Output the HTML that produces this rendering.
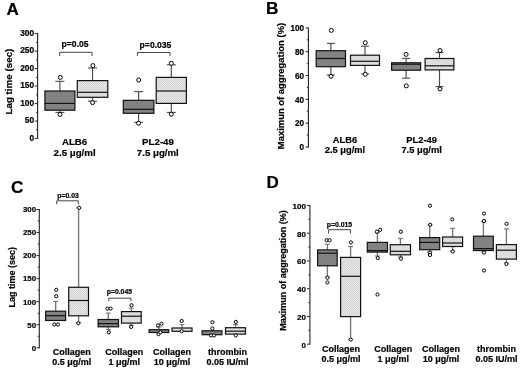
<!DOCTYPE html>
<html><head><meta charset="utf-8"><style>
html,body{margin:0;padding:0;background:#fff;}
svg{display:block;filter:grayscale(1) blur(0.3px);}
text{font-family:"Liberation Sans",sans-serif;font-weight:bold;fill:#000;stroke:#000;stroke-width:0.2px;}
</style></head><body>
<svg width="520" height="371" viewBox="0 0 520 371">
<defs>
<pattern id="dots" width="2" height="2" patternUnits="userSpaceOnUse">
<rect width="2" height="2" fill="#e6e6e6"/><rect width="1" height="1" fill="#d4d4d4"/><rect x="1" y="1" width="1" height="1" fill="#d4d4d4"/>
</pattern>
</defs>
<rect width="520" height="371" fill="#fff"/>
<text x="6.60" y="14.70" font-size="17" text-anchor="start" >A</text>
<line x1="37.60" y1="33.10" x2="37.60" y2="139.10" stroke="#222" stroke-width="1.1"/>
<line x1="34.80" y1="138.60" x2="37.60" y2="138.60" stroke="#222" stroke-width="1.0"/>
<text x="34.20" y="140.61" font-size="8.4" text-anchor="end" >0</text>
<line x1="34.80" y1="121.10" x2="37.60" y2="121.10" stroke="#222" stroke-width="1.0"/>
<text x="34.20" y="123.11" font-size="8.4" text-anchor="end" >50</text>
<line x1="34.80" y1="103.60" x2="37.60" y2="103.60" stroke="#222" stroke-width="1.0"/>
<text x="34.20" y="105.61" font-size="8.4" text-anchor="end" >100</text>
<line x1="34.80" y1="86.10" x2="37.60" y2="86.10" stroke="#222" stroke-width="1.0"/>
<text x="34.20" y="88.11" font-size="8.4" text-anchor="end" >150</text>
<line x1="34.80" y1="68.60" x2="37.60" y2="68.60" stroke="#222" stroke-width="1.0"/>
<text x="34.20" y="70.61" font-size="8.4" text-anchor="end" >200</text>
<line x1="34.80" y1="51.10" x2="37.60" y2="51.10" stroke="#222" stroke-width="1.0"/>
<text x="34.20" y="53.11" font-size="8.4" text-anchor="end" >250</text>
<line x1="34.80" y1="33.60" x2="37.60" y2="33.60" stroke="#222" stroke-width="1.0"/>
<text x="34.20" y="35.61" font-size="8.4" text-anchor="end" >300</text>
<line x1="36.00" y1="129.85" x2="37.60" y2="129.85" stroke="#222" stroke-width="0.9"/>
<line x1="36.00" y1="112.35" x2="37.60" y2="112.35" stroke="#222" stroke-width="0.9"/>
<line x1="36.00" y1="94.85" x2="37.60" y2="94.85" stroke="#222" stroke-width="0.9"/>
<line x1="36.00" y1="77.35" x2="37.60" y2="77.35" stroke="#222" stroke-width="0.9"/>
<line x1="36.00" y1="59.85" x2="37.60" y2="59.85" stroke="#222" stroke-width="0.9"/>
<line x1="36.00" y1="42.35" x2="37.60" y2="42.35" stroke="#222" stroke-width="0.9"/>
<text x="0" y="0" font-size="9.8" text-anchor="middle" transform="translate(12.3,81.6) rotate(-90)">Lag time (sec)</text>
<line x1="59.90" y1="81.30" x2="59.90" y2="90.90" stroke="#4a4a4a" stroke-width="1.15"/>
<line x1="55.40" y1="81.30" x2="64.40" y2="81.30" stroke="#4a4a4a" stroke-width="1.1"/>
<line x1="59.90" y1="110.30" x2="59.90" y2="112.40" stroke="#4a4a4a" stroke-width="1.15"/>
<line x1="55.40" y1="112.40" x2="64.40" y2="112.40" stroke="#4a4a4a" stroke-width="1.1"/>
<rect x="44.90" y="91.00" width="30.00" height="19.20" fill="#828282" stroke="#111" stroke-width="1.2"/>
<line x1="44.90" y1="103.40" x2="74.90" y2="103.40" stroke="#111" stroke-width="1.2"/>
<circle cx="60.30" cy="77.40" r="2.0" fill="#fff" stroke="#000" stroke-width="1.0"/>
<circle cx="60.00" cy="114.50" r="2.0" fill="#fff" stroke="#000" stroke-width="1.0"/>
<line x1="92.55" y1="68.00" x2="92.55" y2="80.50" stroke="#4a4a4a" stroke-width="1.15"/>
<line x1="88.05" y1="68.00" x2="97.05" y2="68.00" stroke="#4a4a4a" stroke-width="1.1"/>
<line x1="92.55" y1="97.40" x2="92.55" y2="101.20" stroke="#4a4a4a" stroke-width="1.15"/>
<line x1="88.05" y1="101.20" x2="97.05" y2="101.20" stroke="#4a4a4a" stroke-width="1.1"/>
<rect x="77.30" y="80.60" width="30.50" height="16.70" fill="url(#dots)" stroke="#111" stroke-width="1.2"/>
<line x1="77.30" y1="92.30" x2="107.80" y2="92.30" stroke="#111" stroke-width="1.2"/>
<circle cx="92.90" cy="65.60" r="2.0" fill="#fff" stroke="#000" stroke-width="1.0"/>
<circle cx="92.60" cy="102.60" r="2.0" fill="#fff" stroke="#000" stroke-width="1.0"/>
<line x1="138.60" y1="91.60" x2="138.60" y2="100.20" stroke="#4a4a4a" stroke-width="1.15"/>
<line x1="134.10" y1="91.60" x2="143.10" y2="91.60" stroke="#4a4a4a" stroke-width="1.1"/>
<line x1="138.60" y1="113.40" x2="138.60" y2="122.30" stroke="#4a4a4a" stroke-width="1.15"/>
<line x1="134.10" y1="122.30" x2="143.10" y2="122.30" stroke="#4a4a4a" stroke-width="1.1"/>
<rect x="123.30" y="100.30" width="30.60" height="13.00" fill="#828282" stroke="#111" stroke-width="1.2"/>
<line x1="123.30" y1="109.30" x2="153.90" y2="109.30" stroke="#111" stroke-width="1.2"/>
<circle cx="138.70" cy="80.00" r="2.0" fill="#fff" stroke="#000" stroke-width="1.0"/>
<circle cx="138.60" cy="123.20" r="2.0" fill="#fff" stroke="#000" stroke-width="1.0"/>
<line x1="171.30" y1="64.80" x2="171.30" y2="77.30" stroke="#4a4a4a" stroke-width="1.15"/>
<line x1="166.80" y1="64.80" x2="175.80" y2="64.80" stroke="#4a4a4a" stroke-width="1.1"/>
<line x1="171.30" y1="103.50" x2="171.30" y2="112.40" stroke="#4a4a4a" stroke-width="1.15"/>
<line x1="166.80" y1="112.40" x2="175.80" y2="112.40" stroke="#4a4a4a" stroke-width="1.1"/>
<rect x="156.20" y="77.40" width="30.20" height="26.00" fill="url(#dots)" stroke="#111" stroke-width="1.2"/>
<line x1="156.20" y1="91.00" x2="186.40" y2="91.00" stroke="#111" stroke-width="1.2"/>
<circle cx="171.30" cy="63.30" r="2.0" fill="#fff" stroke="#000" stroke-width="1.0"/>
<circle cx="171.30" cy="114.20" r="2.0" fill="#fff" stroke="#000" stroke-width="1.0"/>
<polyline points="59.7,55.9 59.7,52.3 92.0,52.3 92.0,55.9" fill="none" stroke="#444" stroke-width="1"/>
<text x="75.10" y="47.40" font-size="8.6" text-anchor="middle" >p=0.05</text>
<polyline points="137.4,55.9 137.4,52.5 170.1,52.5 170.1,55.9" fill="none" stroke="#444" stroke-width="1"/>
<text x="155.50" y="47.60" font-size="8.6" text-anchor="middle" >p=0.035</text>
<text x="74.60" y="144.70" font-size="9.7" text-anchor="middle" >ALB6</text>
<text x="74.60" y="155.60" font-size="9.7" text-anchor="middle" >2.5 μg/ml</text>
<text x="158.00" y="144.70" font-size="9.7" text-anchor="middle" >PL2-49</text>
<text x="157.80" y="155.60" font-size="9.7" text-anchor="middle" >7.5 μg/ml</text>
<text x="266.00" y="13.50" font-size="17.3" text-anchor="start" >B</text>
<line x1="308.40" y1="27.40" x2="308.40" y2="147.50" stroke="#222" stroke-width="1.1"/>
<line x1="305.60" y1="147.00" x2="308.40" y2="147.00" stroke="#222" stroke-width="1.0"/>
<text x="304.10" y="150.24" font-size="8.2" text-anchor="end" >0</text>
<line x1="305.60" y1="123.18" x2="308.40" y2="123.18" stroke="#222" stroke-width="1.0"/>
<text x="304.10" y="126.42" font-size="8.2" text-anchor="end" >20</text>
<line x1="305.60" y1="99.36" x2="308.40" y2="99.36" stroke="#222" stroke-width="1.0"/>
<text x="304.10" y="102.60" font-size="8.2" text-anchor="end" >40</text>
<line x1="305.60" y1="75.54" x2="308.40" y2="75.54" stroke="#222" stroke-width="1.0"/>
<text x="304.10" y="78.78" font-size="8.2" text-anchor="end" >60</text>
<line x1="305.60" y1="51.72" x2="308.40" y2="51.72" stroke="#222" stroke-width="1.0"/>
<text x="304.10" y="54.96" font-size="8.2" text-anchor="end" >80</text>
<line x1="305.60" y1="27.90" x2="308.40" y2="27.90" stroke="#222" stroke-width="1.0"/>
<text x="304.10" y="31.14" font-size="8.2" text-anchor="end" >100</text>
<line x1="306.80" y1="135.09" x2="308.40" y2="135.09" stroke="#222" stroke-width="0.9"/>
<line x1="306.80" y1="111.27" x2="308.40" y2="111.27" stroke="#222" stroke-width="0.9"/>
<line x1="306.80" y1="87.45" x2="308.40" y2="87.45" stroke="#222" stroke-width="0.9"/>
<line x1="306.80" y1="63.63" x2="308.40" y2="63.63" stroke="#222" stroke-width="0.9"/>
<line x1="306.80" y1="39.81" x2="308.40" y2="39.81" stroke="#222" stroke-width="0.9"/>
<text x="0" y="0" font-size="9.45" text-anchor="middle" transform="translate(284.4,86.0) rotate(-90)">Maximun of aggregation (%)</text>
<line x1="330.85" y1="43.40" x2="330.85" y2="50.60" stroke="#4a4a4a" stroke-width="1.15"/>
<line x1="326.85" y1="43.40" x2="334.85" y2="43.40" stroke="#4a4a4a" stroke-width="1.1"/>
<line x1="330.85" y1="66.80" x2="330.85" y2="75.00" stroke="#4a4a4a" stroke-width="1.15"/>
<line x1="326.85" y1="75.00" x2="334.85" y2="75.00" stroke="#4a4a4a" stroke-width="1.1"/>
<rect x="316.20" y="50.70" width="29.30" height="16.00" fill="#828282" stroke="#111" stroke-width="1.2"/>
<line x1="316.20" y1="58.50" x2="345.50" y2="58.50" stroke="#111" stroke-width="1.2"/>
<circle cx="331.30" cy="30.40" r="2.0" fill="#fff" stroke="#000" stroke-width="1.0"/>
<circle cx="331.00" cy="76.30" r="2.0" fill="#fff" stroke="#000" stroke-width="1.0"/>
<line x1="365.00" y1="46.20" x2="365.00" y2="55.10" stroke="#4a4a4a" stroke-width="1.15"/>
<line x1="361.00" y1="46.20" x2="369.00" y2="46.20" stroke="#4a4a4a" stroke-width="1.1"/>
<line x1="365.00" y1="65.50" x2="365.00" y2="74.00" stroke="#4a4a4a" stroke-width="1.15"/>
<line x1="361.00" y1="74.00" x2="369.00" y2="74.00" stroke="#4a4a4a" stroke-width="1.1"/>
<rect x="350.50" y="55.20" width="29.00" height="10.20" fill="url(#dots)" stroke="#111" stroke-width="1.2"/>
<line x1="350.50" y1="61.30" x2="379.50" y2="61.30" stroke="#111" stroke-width="1.2"/>
<circle cx="365.30" cy="42.70" r="2.0" fill="#fff" stroke="#000" stroke-width="1.0"/>
<circle cx="365.30" cy="74.30" r="2.0" fill="#fff" stroke="#000" stroke-width="1.0"/>
<line x1="406.10" y1="58.40" x2="406.10" y2="62.70" stroke="#4a4a4a" stroke-width="1.15"/>
<line x1="402.10" y1="58.40" x2="410.10" y2="58.40" stroke="#4a4a4a" stroke-width="1.1"/>
<line x1="406.10" y1="70.30" x2="406.10" y2="78.20" stroke="#4a4a4a" stroke-width="1.15"/>
<line x1="402.10" y1="78.20" x2="410.10" y2="78.20" stroke="#4a4a4a" stroke-width="1.1"/>
<rect x="391.60" y="62.80" width="29.00" height="7.40" fill="#828282" stroke="#111" stroke-width="1.2"/>
<line x1="391.60" y1="64.20" x2="420.60" y2="64.20" stroke="#111" stroke-width="1.2"/>
<circle cx="406.10" cy="54.40" r="2.0" fill="#fff" stroke="#000" stroke-width="1.0"/>
<circle cx="406.30" cy="85.90" r="2.0" fill="#fff" stroke="#000" stroke-width="1.0"/>
<line x1="439.50" y1="52.60" x2="439.50" y2="58.40" stroke="#4a4a4a" stroke-width="1.15"/>
<line x1="435.50" y1="52.60" x2="443.50" y2="52.60" stroke="#4a4a4a" stroke-width="1.1"/>
<line x1="439.50" y1="70.00" x2="439.50" y2="86.60" stroke="#4a4a4a" stroke-width="1.15"/>
<line x1="435.50" y1="86.60" x2="443.50" y2="86.60" stroke="#4a4a4a" stroke-width="1.1"/>
<rect x="425.10" y="58.50" width="28.80" height="11.40" fill="url(#dots)" stroke="#111" stroke-width="1.2"/>
<line x1="425.10" y1="65.80" x2="453.90" y2="65.80" stroke="#111" stroke-width="1.2"/>
<circle cx="440.00" cy="50.50" r="2.0" fill="#fff" stroke="#000" stroke-width="1.0"/>
<circle cx="440.00" cy="89.00" r="2.0" fill="#fff" stroke="#000" stroke-width="1.0"/>
<text x="345.00" y="142.50" font-size="9.3" text-anchor="middle" >ALB6</text>
<text x="345.00" y="153.10" font-size="9.3" text-anchor="middle" >2.5 μg/ml</text>
<text x="421.60" y="142.50" font-size="9.3" text-anchor="middle" >PL2-49</text>
<text x="421.60" y="153.10" font-size="9.3" text-anchor="middle" >7.5 μg/ml</text>
<text x="11.00" y="193.30" font-size="17.3" text-anchor="start" >C</text>
<line x1="39.30" y1="209.00" x2="39.30" y2="348.30" stroke="#222" stroke-width="1.1"/>
<line x1="36.50" y1="347.80" x2="39.30" y2="347.80" stroke="#222" stroke-width="1.0"/>
<text x="36.10" y="350.63" font-size="7.9" text-anchor="end" >0</text>
<line x1="36.50" y1="324.75" x2="39.30" y2="324.75" stroke="#222" stroke-width="1.0"/>
<text x="36.10" y="327.58" font-size="7.9" text-anchor="end" >50</text>
<line x1="36.50" y1="301.70" x2="39.30" y2="301.70" stroke="#222" stroke-width="1.0"/>
<text x="36.10" y="304.53" font-size="7.9" text-anchor="end" >100</text>
<line x1="36.50" y1="278.65" x2="39.30" y2="278.65" stroke="#222" stroke-width="1.0"/>
<text x="36.10" y="281.48" font-size="7.9" text-anchor="end" >150</text>
<line x1="36.50" y1="255.60" x2="39.30" y2="255.60" stroke="#222" stroke-width="1.0"/>
<text x="36.10" y="258.43" font-size="7.9" text-anchor="end" >200</text>
<line x1="36.50" y1="232.55" x2="39.30" y2="232.55" stroke="#222" stroke-width="1.0"/>
<text x="36.10" y="235.38" font-size="7.9" text-anchor="end" >250</text>
<line x1="36.50" y1="209.50" x2="39.30" y2="209.50" stroke="#222" stroke-width="1.0"/>
<text x="36.10" y="212.33" font-size="7.9" text-anchor="end" >300</text>
<line x1="37.70" y1="336.28" x2="39.30" y2="336.28" stroke="#222" stroke-width="0.9"/>
<line x1="37.70" y1="313.23" x2="39.30" y2="313.23" stroke="#222" stroke-width="0.9"/>
<line x1="37.70" y1="290.18" x2="39.30" y2="290.18" stroke="#222" stroke-width="0.9"/>
<line x1="37.70" y1="267.12" x2="39.30" y2="267.12" stroke="#222" stroke-width="0.9"/>
<line x1="37.70" y1="244.07" x2="39.30" y2="244.07" stroke="#222" stroke-width="0.9"/>
<line x1="37.70" y1="221.03" x2="39.30" y2="221.03" stroke="#222" stroke-width="0.9"/>
<text x="0" y="0" font-size="9.0" text-anchor="middle" transform="translate(15.2,277.2) rotate(-90)">Lag time (sec)</text>
<line x1="55.65" y1="301.40" x2="55.65" y2="311.10" stroke="#757575" stroke-width="1.35"/>
<line x1="53.15" y1="301.40" x2="58.15" y2="301.40" stroke="#757575" stroke-width="1.1"/>
<rect x="45.70" y="311.20" width="19.90" height="9.30" fill="#828282" stroke="#111" stroke-width="1.2"/>
<line x1="45.70" y1="315.70" x2="65.60" y2="315.70" stroke="#111" stroke-width="1.2"/>
<circle cx="56.20" cy="289.80" r="1.6" fill="#fff" stroke="#000" stroke-width="1.0"/>
<circle cx="56.20" cy="296.20" r="1.6" fill="#fff" stroke="#000" stroke-width="1.0"/>
<circle cx="54.30" cy="324.50" r="1.6" fill="#fff" stroke="#000" stroke-width="1.0"/>
<circle cx="58.00" cy="324.50" r="1.6" fill="#fff" stroke="#000" stroke-width="1.0"/>
<line x1="78.60" y1="207.80" x2="78.60" y2="287.20" stroke="#757575" stroke-width="1.35"/>
<line x1="76.10" y1="207.80" x2="81.10" y2="207.80" stroke="#757575" stroke-width="1.1"/>
<line x1="78.60" y1="315.90" x2="78.60" y2="322.60" stroke="#757575" stroke-width="1.35"/>
<line x1="76.10" y1="322.60" x2="81.10" y2="322.60" stroke="#757575" stroke-width="1.1"/>
<rect x="68.70" y="287.30" width="19.80" height="28.50" fill="url(#dots)" stroke="#111" stroke-width="1.2"/>
<line x1="68.70" y1="300.50" x2="88.50" y2="300.50" stroke="#111" stroke-width="1.2"/>
<circle cx="79.20" cy="207.80" r="1.6" fill="#fff" stroke="#000" stroke-width="1.0"/>
<circle cx="78.30" cy="323.20" r="1.6" fill="#fff" stroke="#000" stroke-width="1.0"/>
<line x1="108.30" y1="313.10" x2="108.30" y2="319.40" stroke="#757575" stroke-width="1.35"/>
<line x1="105.80" y1="313.10" x2="110.80" y2="313.10" stroke="#757575" stroke-width="1.1"/>
<line x1="108.30" y1="326.90" x2="108.30" y2="329.50" stroke="#757575" stroke-width="1.35"/>
<line x1="105.80" y1="329.50" x2="110.80" y2="329.50" stroke="#757575" stroke-width="1.1"/>
<rect x="98.10" y="319.50" width="20.40" height="7.30" fill="#828282" stroke="#111" stroke-width="1.2"/>
<line x1="98.10" y1="323.60" x2="118.50" y2="323.60" stroke="#111" stroke-width="1.2"/>
<circle cx="107.40" cy="308.60" r="1.6" fill="#fff" stroke="#000" stroke-width="1.0"/>
<circle cx="110.60" cy="308.60" r="1.6" fill="#fff" stroke="#000" stroke-width="1.0"/>
<circle cx="108.80" cy="332.30" r="1.6" fill="#fff" stroke="#000" stroke-width="1.0"/>
<line x1="131.35" y1="308.10" x2="131.35" y2="311.50" stroke="#757575" stroke-width="1.35"/>
<line x1="128.85" y1="308.10" x2="133.85" y2="308.10" stroke="#757575" stroke-width="1.1"/>
<line x1="131.35" y1="323.20" x2="131.35" y2="325.30" stroke="#757575" stroke-width="1.35"/>
<line x1="128.85" y1="325.30" x2="133.85" y2="325.30" stroke="#757575" stroke-width="1.1"/>
<rect x="121.50" y="311.60" width="19.70" height="11.50" fill="url(#dots)" stroke="#111" stroke-width="1.2"/>
<line x1="121.50" y1="316.20" x2="141.20" y2="316.20" stroke="#111" stroke-width="1.2"/>
<circle cx="131.50" cy="305.20" r="1.6" fill="#fff" stroke="#000" stroke-width="1.0"/>
<circle cx="131.20" cy="326.90" r="1.6" fill="#fff" stroke="#000" stroke-width="1.0"/>
<line x1="158.90" y1="327.00" x2="158.90" y2="329.60" stroke="#757575" stroke-width="1.35"/>
<line x1="156.40" y1="327.00" x2="161.40" y2="327.00" stroke="#757575" stroke-width="1.1"/>
<rect x="149.10" y="329.70" width="19.60" height="2.80" fill="#828282" stroke="#111" stroke-width="1.2"/>
<circle cx="158.00" cy="325.40" r="1.6" fill="#fff" stroke="#000" stroke-width="1.0"/>
<circle cx="161.50" cy="323.70" r="1.6" fill="#fff" stroke="#000" stroke-width="1.0"/>
<circle cx="158.50" cy="334.20" r="1.6" fill="#fff" stroke="#000" stroke-width="1.0"/>
<circle cx="160.40" cy="332.30" r="1.6" fill="#fff" stroke="#000" stroke-width="1.0"/>
<line x1="182.00" y1="324.60" x2="182.00" y2="327.90" stroke="#757575" stroke-width="1.35"/>
<line x1="179.50" y1="324.60" x2="184.50" y2="324.60" stroke="#757575" stroke-width="1.1"/>
<rect x="172.00" y="328.00" width="20.00" height="3.30" fill="url(#dots)" stroke="#111" stroke-width="1.2"/>
<circle cx="181.70" cy="321.00" r="1.6" fill="#fff" stroke="#000" stroke-width="1.0"/>
<circle cx="181.70" cy="331.20" r="1.6" fill="#fff" stroke="#000" stroke-width="1.0"/>
<rect x="202.10" y="330.80" width="19.80" height="3.90" fill="#828282" stroke="#111" stroke-width="1.2"/>
<circle cx="212.40" cy="322.20" r="1.6" fill="#fff" stroke="#000" stroke-width="1.0"/>
<circle cx="212.40" cy="328.50" r="1.6" fill="#fff" stroke="#000" stroke-width="1.0"/>
<circle cx="211.00" cy="335.40" r="1.6" fill="#fff" stroke="#000" stroke-width="1.0"/>
<circle cx="214.00" cy="335.40" r="1.6" fill="#fff" stroke="#000" stroke-width="1.0"/>
<line x1="235.50" y1="324.60" x2="235.50" y2="327.60" stroke="#757575" stroke-width="1.35"/>
<line x1="233.00" y1="324.60" x2="238.00" y2="324.60" stroke="#757575" stroke-width="1.1"/>
<rect x="225.50" y="327.70" width="20.00" height="6.40" fill="url(#dots)" stroke="#111" stroke-width="1.2"/>
<line x1="225.50" y1="331.20" x2="245.50" y2="331.20" stroke="#111" stroke-width="1.2"/>
<circle cx="235.80" cy="321.90" r="1.6" fill="#fff" stroke="#000" stroke-width="1.0"/>
<circle cx="235.80" cy="335.40" r="1.6" fill="#fff" stroke="#000" stroke-width="1.0"/>
<polyline points="56.7,204.2 56.7,200.8 78.3,200.8 78.3,204.2" fill="none" stroke="#444" stroke-width="1"/>
<text x="68.10" y="197.80" font-size="6.5" text-anchor="middle" textLength="21.6" lengthAdjust="spacingAndGlyphs" stroke="#000" stroke-width="0.18">p=0.03</text>
<polyline points="108.8,301.1 108.8,298.2 131.0,298.2 131.0,301.1" fill="none" stroke="#444" stroke-width="1"/>
<text x="119.40" y="294.40" font-size="6.5" text-anchor="middle" textLength="25.3" lengthAdjust="spacingAndGlyphs" stroke="#000" stroke-width="0.18">p=0.045</text>
<text x="71.80" y="354.90" font-size="9.0" text-anchor="middle" >Collagen</text>
<text x="71.80" y="365.10" font-size="9.0" text-anchor="middle" >0.5 μg/ml</text>
<text x="124.30" y="354.90" font-size="9.0" text-anchor="middle" >Collagen</text>
<text x="124.30" y="365.10" font-size="9.0" text-anchor="middle" >1 μg/ml</text>
<text x="172.00" y="354.90" font-size="9.0" text-anchor="middle" >Collagen</text>
<text x="172.00" y="365.10" font-size="9.0" text-anchor="middle" >10 μg/ml</text>
<text x="227.60" y="354.90" font-size="9.0" text-anchor="middle" >thrombin</text>
<text x="227.60" y="365.10" font-size="9.0" text-anchor="middle" >0.05 IU/ml</text>
<text x="266.40" y="188.40" font-size="17" text-anchor="start" >D</text>
<line x1="309.90" y1="205.00" x2="309.90" y2="344.70" stroke="#222" stroke-width="1.1"/>
<line x1="307.10" y1="344.20" x2="309.90" y2="344.20" stroke="#222" stroke-width="1.0"/>
<text x="305.90" y="347.56" font-size="8.0" text-anchor="end" >0</text>
<line x1="307.10" y1="316.46" x2="309.90" y2="316.46" stroke="#222" stroke-width="1.0"/>
<text x="305.90" y="319.82" font-size="8.0" text-anchor="end" >20</text>
<line x1="307.10" y1="288.72" x2="309.90" y2="288.72" stroke="#222" stroke-width="1.0"/>
<text x="305.90" y="292.08" font-size="8.0" text-anchor="end" >40</text>
<line x1="307.10" y1="260.98" x2="309.90" y2="260.98" stroke="#222" stroke-width="1.0"/>
<text x="305.90" y="264.34" font-size="8.0" text-anchor="end" >60</text>
<line x1="307.10" y1="233.24" x2="309.90" y2="233.24" stroke="#222" stroke-width="1.0"/>
<text x="305.90" y="236.60" font-size="8.0" text-anchor="end" >80</text>
<line x1="307.10" y1="205.50" x2="309.90" y2="205.50" stroke="#222" stroke-width="1.0"/>
<text x="305.90" y="208.86" font-size="8.0" text-anchor="end" >100</text>
<line x1="308.30" y1="330.33" x2="309.90" y2="330.33" stroke="#222" stroke-width="0.9"/>
<line x1="308.30" y1="302.59" x2="309.90" y2="302.59" stroke="#222" stroke-width="0.9"/>
<line x1="308.30" y1="274.85" x2="309.90" y2="274.85" stroke="#222" stroke-width="0.9"/>
<line x1="308.30" y1="247.11" x2="309.90" y2="247.11" stroke="#222" stroke-width="0.9"/>
<line x1="308.30" y1="219.37" x2="309.90" y2="219.37" stroke="#222" stroke-width="0.9"/>
<text x="0" y="0" font-size="9.0" text-anchor="middle" transform="translate(286.4,270.6) rotate(-90)">Maximun of aggregation (%)</text>
<line x1="327.40" y1="244.20" x2="327.40" y2="249.80" stroke="#757575" stroke-width="1.35"/>
<line x1="324.90" y1="244.20" x2="329.90" y2="244.20" stroke="#757575" stroke-width="1.1"/>
<line x1="327.40" y1="265.90" x2="327.40" y2="277.00" stroke="#757575" stroke-width="1.35"/>
<line x1="324.90" y1="277.00" x2="329.90" y2="277.00" stroke="#757575" stroke-width="1.1"/>
<rect x="317.60" y="249.90" width="19.60" height="15.90" fill="#828282" stroke="#111" stroke-width="1.2"/>
<line x1="317.60" y1="253.20" x2="337.20" y2="253.20" stroke="#111" stroke-width="1.2"/>
<circle cx="326.60" cy="240.20" r="1.6" fill="#fff" stroke="#000" stroke-width="1.0"/>
<circle cx="329.60" cy="240.20" r="1.6" fill="#fff" stroke="#000" stroke-width="1.0"/>
<circle cx="327.40" cy="277.70" r="1.6" fill="#fff" stroke="#000" stroke-width="1.0"/>
<circle cx="327.40" cy="282.50" r="1.6" fill="#fff" stroke="#000" stroke-width="1.0"/>
<line x1="350.60" y1="246.60" x2="350.60" y2="257.30" stroke="#757575" stroke-width="1.35"/>
<line x1="348.10" y1="246.60" x2="353.10" y2="246.60" stroke="#757575" stroke-width="1.1"/>
<line x1="350.60" y1="316.70" x2="350.60" y2="339.40" stroke="#757575" stroke-width="1.35"/>
<line x1="348.10" y1="339.40" x2="353.10" y2="339.40" stroke="#757575" stroke-width="1.1"/>
<rect x="340.60" y="257.40" width="20.00" height="59.20" fill="url(#dots)" stroke="#111" stroke-width="1.2"/>
<line x1="340.60" y1="276.30" x2="360.60" y2="276.30" stroke="#111" stroke-width="1.2"/>
<circle cx="350.90" cy="242.40" r="1.6" fill="#fff" stroke="#000" stroke-width="1.0"/>
<circle cx="350.70" cy="339.60" r="1.6" fill="#fff" stroke="#000" stroke-width="1.0"/>
<line x1="377.40" y1="232.80" x2="377.40" y2="242.30" stroke="#757575" stroke-width="1.35"/>
<line x1="374.90" y1="232.80" x2="379.90" y2="232.80" stroke="#757575" stroke-width="1.1"/>
<line x1="377.40" y1="252.20" x2="377.40" y2="256.00" stroke="#757575" stroke-width="1.35"/>
<line x1="374.90" y1="256.00" x2="379.90" y2="256.00" stroke="#757575" stroke-width="1.1"/>
<rect x="367.30" y="242.40" width="20.20" height="9.70" fill="#828282" stroke="#111" stroke-width="1.2"/>
<line x1="367.30" y1="250.60" x2="387.50" y2="250.60" stroke="#111" stroke-width="1.2"/>
<circle cx="376.90" cy="231.70" r="1.6" fill="#fff" stroke="#000" stroke-width="1.0"/>
<circle cx="380.20" cy="229.80" r="1.6" fill="#fff" stroke="#000" stroke-width="1.0"/>
<circle cx="377.80" cy="258.10" r="1.6" fill="#fff" stroke="#000" stroke-width="1.0"/>
<circle cx="377.50" cy="294.50" r="1.6" fill="#fff" stroke="#000" stroke-width="1.0"/>
<line x1="400.40" y1="238.40" x2="400.40" y2="244.60" stroke="#757575" stroke-width="1.35"/>
<line x1="397.90" y1="238.40" x2="402.90" y2="238.40" stroke="#757575" stroke-width="1.1"/>
<line x1="400.40" y1="254.90" x2="400.40" y2="257.00" stroke="#757575" stroke-width="1.35"/>
<line x1="397.90" y1="257.00" x2="402.90" y2="257.00" stroke="#757575" stroke-width="1.1"/>
<rect x="390.30" y="244.70" width="20.20" height="10.10" fill="url(#dots)" stroke="#111" stroke-width="1.2"/>
<line x1="390.30" y1="251.30" x2="410.50" y2="251.30" stroke="#111" stroke-width="1.2"/>
<circle cx="400.90" cy="231.70" r="1.6" fill="#fff" stroke="#000" stroke-width="1.0"/>
<circle cx="400.90" cy="258.60" r="1.6" fill="#fff" stroke="#000" stroke-width="1.0"/>
<line x1="429.70" y1="224.80" x2="429.70" y2="237.50" stroke="#757575" stroke-width="1.35"/>
<line x1="427.20" y1="224.80" x2="432.20" y2="224.80" stroke="#757575" stroke-width="1.1"/>
<line x1="429.70" y1="249.80" x2="429.70" y2="252.00" stroke="#757575" stroke-width="1.35"/>
<line x1="427.20" y1="252.00" x2="432.20" y2="252.00" stroke="#757575" stroke-width="1.1"/>
<rect x="419.70" y="237.60" width="20.00" height="12.10" fill="#828282" stroke="#111" stroke-width="1.2"/>
<line x1="419.70" y1="242.40" x2="439.70" y2="242.40" stroke="#111" stroke-width="1.2"/>
<circle cx="430.00" cy="205.70" r="1.6" fill="#fff" stroke="#000" stroke-width="1.0"/>
<circle cx="430.20" cy="224.80" r="1.6" fill="#fff" stroke="#000" stroke-width="1.0"/>
<circle cx="430.00" cy="252.60" r="1.6" fill="#fff" stroke="#000" stroke-width="1.0"/>
<circle cx="430.00" cy="255.00" r="1.6" fill="#fff" stroke="#000" stroke-width="1.0"/>
<line x1="452.60" y1="228.30" x2="452.60" y2="236.90" stroke="#757575" stroke-width="1.35"/>
<line x1="450.10" y1="228.30" x2="455.10" y2="228.30" stroke="#757575" stroke-width="1.1"/>
<line x1="452.60" y1="246.60" x2="452.60" y2="251.00" stroke="#757575" stroke-width="1.35"/>
<line x1="450.10" y1="251.00" x2="455.10" y2="251.00" stroke="#757575" stroke-width="1.1"/>
<rect x="442.60" y="237.00" width="20.00" height="9.50" fill="url(#dots)" stroke="#111" stroke-width="1.2"/>
<line x1="442.60" y1="243.00" x2="462.60" y2="243.00" stroke="#111" stroke-width="1.2"/>
<circle cx="452.20" cy="219.40" r="1.6" fill="#fff" stroke="#000" stroke-width="1.0"/>
<circle cx="452.80" cy="251.50" r="1.6" fill="#fff" stroke="#000" stroke-width="1.0"/>
<line x1="483.40" y1="221.60" x2="483.40" y2="236.10" stroke="#757575" stroke-width="1.35"/>
<line x1="480.90" y1="221.60" x2="485.90" y2="221.60" stroke="#757575" stroke-width="1.1"/>
<line x1="483.40" y1="250.60" x2="483.40" y2="252.00" stroke="#757575" stroke-width="1.35"/>
<line x1="480.90" y1="252.00" x2="485.90" y2="252.00" stroke="#757575" stroke-width="1.1"/>
<rect x="473.50" y="236.20" width="19.80" height="14.30" fill="#828282" stroke="#111" stroke-width="1.2"/>
<line x1="473.50" y1="248.60" x2="493.30" y2="248.60" stroke="#111" stroke-width="1.2"/>
<circle cx="484.00" cy="213.50" r="1.6" fill="#fff" stroke="#000" stroke-width="1.0"/>
<circle cx="484.00" cy="221.00" r="1.6" fill="#fff" stroke="#000" stroke-width="1.0"/>
<circle cx="484.00" cy="252.50" r="1.6" fill="#fff" stroke="#000" stroke-width="1.0"/>
<circle cx="484.00" cy="270.50" r="1.6" fill="#fff" stroke="#000" stroke-width="1.0"/>
<line x1="506.40" y1="228.90" x2="506.40" y2="244.50" stroke="#757575" stroke-width="1.35"/>
<line x1="503.90" y1="228.90" x2="508.90" y2="228.90" stroke="#757575" stroke-width="1.1"/>
<line x1="506.40" y1="259.20" x2="506.40" y2="263.00" stroke="#757575" stroke-width="1.35"/>
<line x1="503.90" y1="263.00" x2="508.90" y2="263.00" stroke="#757575" stroke-width="1.1"/>
<rect x="496.40" y="244.60" width="20.00" height="14.50" fill="url(#dots)" stroke="#111" stroke-width="1.2"/>
<line x1="496.40" y1="250.20" x2="516.40" y2="250.20" stroke="#111" stroke-width="1.2"/>
<circle cx="506.60" cy="223.80" r="1.6" fill="#fff" stroke="#000" stroke-width="1.0"/>
<circle cx="506.40" cy="264.00" r="1.6" fill="#fff" stroke="#000" stroke-width="1.0"/>
<polyline points="328.6,233.5 328.6,229.7 350.4,229.7 350.4,233.5" fill="none" stroke="#444" stroke-width="1"/>
<text x="339.50" y="226.50" font-size="6.5" text-anchor="middle" textLength="25.4" lengthAdjust="spacingAndGlyphs" stroke="#000" stroke-width="0.18">p=0.015</text>
<text x="341.10" y="351.50" font-size="9.0" text-anchor="middle" >Collagen</text>
<text x="341.10" y="361.90" font-size="9.0" text-anchor="middle" >0.5 μg/ml</text>
<text x="393.30" y="351.50" font-size="9.0" text-anchor="middle" >Collagen</text>
<text x="393.30" y="361.90" font-size="9.0" text-anchor="middle" >1 μg/ml</text>
<text x="441.00" y="351.50" font-size="9.0" text-anchor="middle" >Collagen</text>
<text x="441.00" y="361.90" font-size="9.0" text-anchor="middle" >10 μg/ml</text>
<text x="496.50" y="351.50" font-size="9.0" text-anchor="middle" >thrombin</text>
<text x="496.50" y="361.90" font-size="9.0" text-anchor="middle" >0.05 IU/ml</text>
</svg>
</body></html>
